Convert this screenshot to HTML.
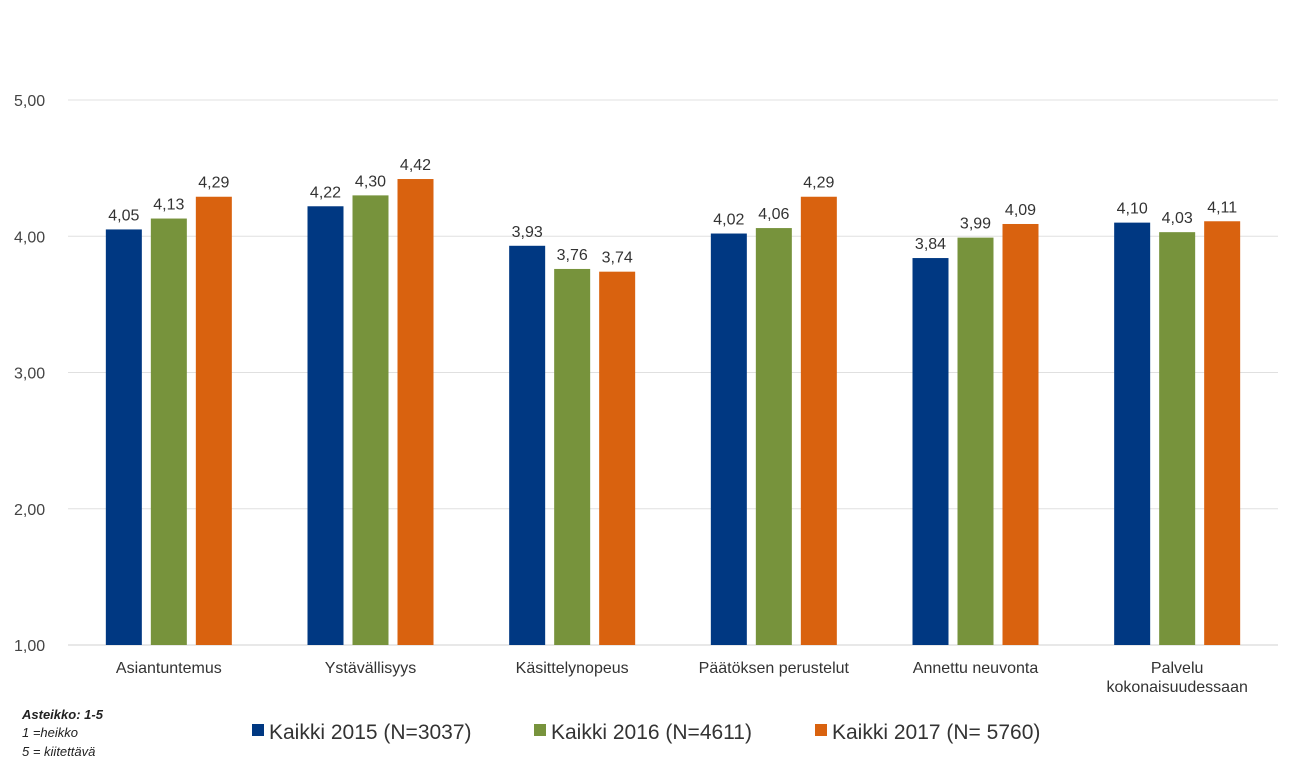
<!DOCTYPE html>
<html><head><meta charset="utf-8">
<style>
body{margin:0;background:#fff;font-family:"Liberation Sans",Arial,sans-serif;}
svg text{font-family:"Liberation Sans",Arial,sans-serif;}
</style></head>
<body>
<svg id="chart" width="1301" height="764" viewBox="0 0 1301 764" xmlns="http://www.w3.org/2000/svg">
<g id="grid"></g><g id="bars"></g><g id="labels"></g>
<g font-size="13" font-style="italic" fill="#222">
<text x="22" y="719" font-weight="bold">Asteikko:  1-5</text>
<text x="22" y="737">1 =heikko</text>
<text x="22" y="756">5 = kiitettävä</text>
</g>
<g id="legend" font-size="21" fill="#333"></g>
</svg>
<script>
const categories=["Asiantuntemus","Ystävällisyys","Käsittelynopeus","Päätöksen perustelut","Annettu neuvonta","Palvelu|kokonaisuudessaan"];
const series2015=[4.05,4.22,3.93,4.02,3.84,4.10];
const series2016=[4.13,4.30,3.76,4.06,3.99,4.03];
const series2017=[4.29,4.42,3.74,4.29,4.09,4.11];
const seriesNames=["Kaikki 2015 (N=3037)","Kaikki 2016 (N=4611)","Kaikki 2017 (N= 5760)"];
const yTicks=[1,2,3,4,5];
const colors=["#003882","#77933c","#d9620f"];
const NS="http://www.w3.org/2000/svg";
const left=68,right=1278,y1=645,y5=100;
const y=v=>y1-(v-1)*(y1-y5)/4;
const groupW=(right-left)/categories.length;
const xc=i=>left+groupW*(i+0.5);
const fmt=v=>v.toFixed(2).replace('.',',');
function mk(tag,attrs,parent,txt){const e=document.createElementNS(NS,tag);for(const k in attrs)e.setAttribute(k,attrs[k]);if(txt!==undefined)e.textContent=txt;parent.appendChild(e);return e;}
const grid=document.getElementById('grid');
yTicks.forEach(t=>{
 const l=mk('line',{x1:left,x2:right,y1:y(t),y2:y(t),stroke:t===1?'#d0d0d0':'#e0e0e0','stroke-width':1},grid);
 
 
 const tx=mk('text',{x:14,y:y(t)+6,'font-size':16,fill:'#444'},grid,fmt(t));
 
 
});
const bars=document.getElementById('bars'),labels=document.getElementById('labels');
const all=[series2015,series2016,series2017];
const bw=36,gap=9;
categories.forEach((c,i)=>{
 all.forEach((s,j)=>{
  const x=xc(i)+(j-1)*(bw+gap)-bw/2;
  const r=mk('rect',{x:x,y:y(s[i]),width:bw,height:y1-y(s[i]),fill:colors[j]},bars);
  
  
  const t=mk('text',{x:x+bw/2,y:y(s[i])-9,'font-size':16,fill:'#333','text-anchor':'middle'},labels,fmt(s[i]));
  
  
 });
 c.split('|').forEach((line,k)=>{
  const t=mk('text',{x:xc(i),y:673+k*19,'font-size':16,fill:'#333','text-anchor':'middle'},labels,line);
  
  
 });
});
const lg=document.getElementById('legend');
const lx=[252,534,815];
seriesNames.forEach((n,j)=>{
 const r=mk('rect',{x:lx[j],y:724,width:12,height:12,fill:colors[j]},lg);
 
 
 const t=mk('text',{x:lx[j]+17,y:739},lg,n);
 
 
});
</script>
</body></html>
